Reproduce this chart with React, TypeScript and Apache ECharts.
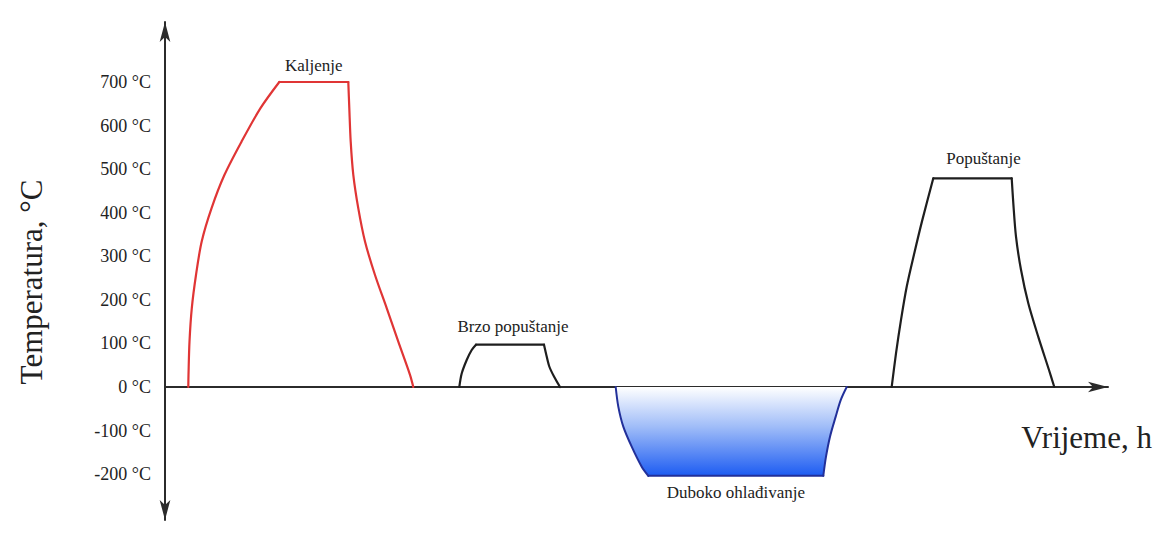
import React, { useEffect, useRef } from "react";
import * as echarts from "echarts";

// Temperature tick labels (°C)
const yTickValues = [-200, -100, 0, 100, 200, 300, 400, 500, 600, 700];

// Kaljenje (hardening) — time (arbitrary h units), temperature °C
const kaljenjeTime = [2.33, 2.35, 2.45, 2.68, 3.1, 3.67, 4.65, 5.95, 7.65, 9.55, 11.43, 18.33, 18.43, 18.57, 18.83, 19.33, 20.0, 21.0, 22.17, 23.33, 24.5, 24.83];
const kaljenjeTemp = [0, 28, 104, 181, 257, 334, 410, 487, 563, 640, 700, 700, 640, 563, 487, 410, 334, 257, 181, 104, 28, 0];

// Brzo popuštanje (quick tempering)
const brzoTime = [29.43, 29.67, 30.17, 30.67, 31.1, 37.9, 38.1, 38.43, 38.9, 39.5];
const brzoTemp = [0, 31, 62, 85, 97, 97, 77, 47, 24, 0];

// Duboko ohlađivanje (deep cooling)
const dubokoTime = [45.07, 45.33, 45.83, 46.67, 47.67, 48.33, 65.83, 66.1, 66.5, 67.07, 67.57, 68.17];
const dubokoTemp = [0, -45, -91, -137, -183, -204, -204, -160, -114, -68, -30, 0];

// Popuštanje (tempering)
const popustanjeTime = [72.67, 73.1, 73.6, 74.17, 74.93, 75.73, 76.83, 84.67, 84.83, 85.1, 85.6, 86.33, 87.33, 88.4, 88.93];
const popustanjeTemp = [0, 77, 154, 230, 307, 383, 479, 479, 422, 345, 269, 192, 115, 39, 0];

const names = ["Kaljenje", "Brzo popuštanje", "Duboko ohlađivanje", "Popuštanje"];

const FONT = "'Liberation Serif', 'Times New Roman', serif";

function zip(t: number[], v: number[]) {
  return t.map((x, i) => [x, v[i]]);
}

function extremeIdx(v: number[], useMin: boolean) {
  const ext = useMin ? Math.min(...v) : Math.max(...v);
  const first = v.indexOf(ext);
  const last = v.lastIndexOf(ext);
  return { ext, first, last };
}

function labelPoint(
  name: string,
  t: number[],
  v: number[],
  below: boolean,
  distance: number,
  offsetX = 0
) {
  const { ext, first, last } = extremeIdx(v, below);
  return {
    symbol: "circle",
    symbolSize: 1,
    silent: true,
    itemStyle: { color: "rgba(0,0,0,0)" },
    data: [
      {
        name,
        coord: [(t[first] + t[last]) / 2, ext],
        label: {
          show: true,
          position: below ? "bottom" : "top",
          distance,
          offset: [offsetX, 0],
          formatter: name,
          fontFamily: FONT,
          fontSize: 17,
          color: "#222",
        },
      },
    ],
  };
}

// Splits a profile into rise / hold / fall so that the curved parts can be
// smoothed while the corners at the hold stay sharp.
function profileSeries(
  name: string,
  t: number[],
  v: number[],
  color: string,
  below: boolean,
  labelDistance: number,
  labelOffsetX: number,
  width: number
) {
  const { first, last } = extremeIdx(v, below);
  const data = zip(t, v);
  const parts = [data.slice(0, first + 1), data.slice(first, last + 1), data.slice(last)];
  return parts.map((part, i) => ({
    type: "line",
    name,
    data: part,
    showSymbol: false,
    smooth: i === 1 ? false : 0.3,
    lineStyle: { color, width, cap: "round", join: "round" },
    itemStyle: { color },
    z: 3,
    markPoint: i === 1 ? labelPoint(name, t, v, below, labelDistance, labelOffsetX) : undefined,
  }));
}

export default function App() {
  const ref = useRef<HTMLDivElement>(null);

  useEffect(() => {
    if (!ref.current) return;
    const chart = echarts.init(ref.current, undefined, { renderer: "svg" });
    const axisColor = "#2b2b2b";

    const series: any[] = [
      // fill of the deep-cooling trough
      {
        type: "line",
        name: names[2],
        data: zip(dubokoTime, dubokoTemp),
        showSymbol: false,
        smooth: false,
        lineStyle: { width: 0, opacity: 0 },
        areaStyle: {
          opacity: 1,
          color: new echarts.graphic.LinearGradient(0, 0, 0, 1, [
            { offset: 0, color: "#ffffff" },
            { offset: 0.45, color: "#9fbcf8" },
            { offset: 1, color: "#1d5cf2" },
          ]),
        },
        z: 1,
      },
      ...profileSeries(names[0], kaljenjeTime, kaljenjeTemp, "#e03535", false, 7, 0, 2.2),
      ...profileSeries(names[1], brzoTime, brzoTemp, "#1e1e1e", false, 9, 3, 2.2),
      ...profileSeries(names[2], dubokoTime, dubokoTemp, "#22309a", true, 8, 0, 2),
      ...profileSeries(names[3], popustanjeTime, popustanjeTemp, "#1e1e1e", false, 11, 11, 2.2),
    ];

    chart.setOption({
      animation: false,
      backgroundColor: "#ffffff",
      grid: { left: 165, right: 55, top: 22, bottom: 16, containLabel: false },
      xAxis: {
        type: "value",
        min: 0,
        max: 94.3,
        name: "Vrijeme, h",
        nameLocation: "end",
        nameGap: 44,
        nameTextStyle: {
          fontFamily: FONT,
          fontSize: 31,
          color: "#222",
          align: "right",
          verticalAlign: "top",
          padding: [35, 0, 0, 0],
        },
        axisLine: {
          show: true,
          onZero: true,
          symbol: ["none", "arrow"],
          symbolSize: [8, 20],
          lineStyle: { color: axisColor, width: 2 },
        },
        axisTick: { show: false },
        axisLabel: { show: false },
        splitLine: { show: false },
      },
      yAxis: {
        type: "value",
        min: -305.3,
        max: 837.7,
        name: "Temperatura, °C",
        nameLocation: "middle",
        nameRotate: 90,
        nameGap: 118,
        nameTextStyle: {
          fontFamily: FONT,
          fontSize: 31,
          color: "#222",
          padding: [0, 22, 0, 0],
        },
        axisLine: {
          show: true,
          onZero: false,
          symbol: ["arrow", "arrow"],
          symbolSize: [8, 20],
          lineStyle: { color: axisColor, width: 2 },
        },
        axisTick: { show: false },
        axisLabel: {
          show: true,
          customValues: yTickValues,
          formatter: (v: number) => `${v} °C`,
          fontFamily: FONT,
          fontSize: 18,
          color: "#222",
          margin: 14,
        },
        splitLine: { show: false },
      },
      series,
    });

    return () => {
      chart.dispose();
    };
  }, []);

  return (
    <div
      ref={ref}
      style={{ position: "absolute", left: 0, top: 0, width: 1163, height: 536 }}
    />
  );
}
